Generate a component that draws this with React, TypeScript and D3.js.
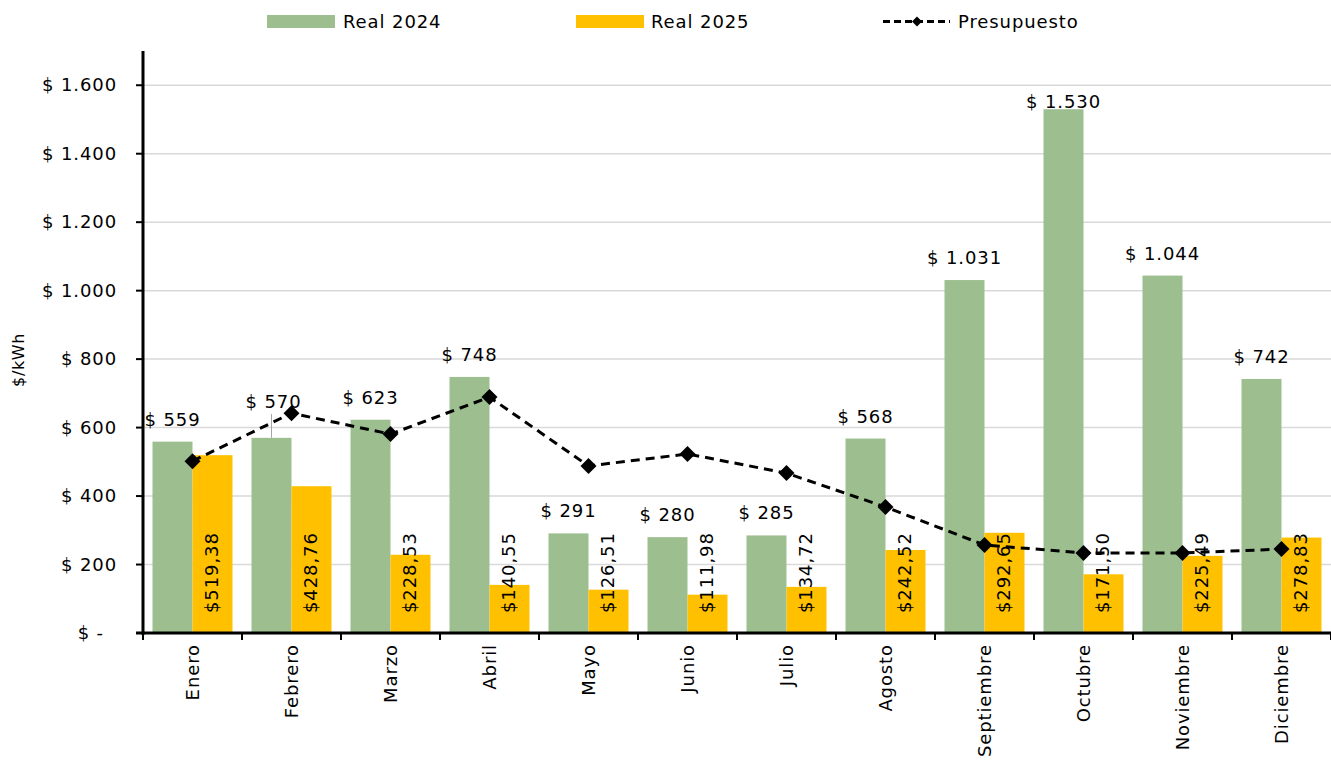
import React from "react";
import * as d3 from "d3";

const months = ["Enero","Febrero","Marzo","Abril","Mayo","Junio","Julio","Agosto","Septiembre","Octubre","Noviembre","Diciembre"];
const real2024 = [559, 570, 623, 748, 291, 280, 285, 568, 1031, 1530, 1044, 742];
const real2025 = [519.38, 428.76, 228.53, 140.55, 126.51, 111.98, 134.72, 242.52, 292.65, 171.5, 225.49, 278.83];
const presupuesto = [502, 642, 581, 689, 488, 523, 467, 368, 257, 234, 234, 245];
const yTicks = [0, 200, 400, 600, 800, 1000, 1200, 1400, 1600];

const W = 1331, H = 767;
const FONT = "'DejaVu Sans', sans-serif";
const FS = 18;
const LS = 0.9;
const GREEN = "#9DBF90";
const YELLOW = "#FFC000";

const fmtThousands = (v: number) => {
  const s = Math.round(v).toString();
  return s.replace(/\B(?=(\d{3})+(?!\d))/g, ".");
};
const fmt2 = (v: number) => "$" + v.toFixed(2).replace(".", ",");

export default function App() {
  const x = d3.scaleBand<string>().domain(months).range([143, 1331]).padding(0);
  const y = d3.scaleLinear().domain([0, 1700]).range([633, 51]);
  const bw = x.bandwidth();
  const barW = bw * 0.404;
  const line = d3.line<number>()
    .x((_, i) => (x(months[i]) as number) + bw / 2)
    .y(d => y(d));

  const diamond = (cx: number, cy: number, r: number) =>
    `M${cx},${cy - r}L${cx + r},${cy}L${cx},${cy + r}L${cx - r},${cy}Z`;

  const T = { fontSize: FS, letterSpacing: LS, fill: "#000" } as any;

  return (
    <svg width={W} height={H} style={{ position: "absolute", left: 0, top: 0, fontFamily: FONT }}>
      <rect width={W} height={H} fill="#fff" />
      {yTicks.map(t => (
        <line key={t} x1={143} x2={1331} y1={y(t)} y2={y(t)} stroke="#d9d9d9" strokeWidth={1.5} />
      ))}
      {months.map((m, i) => {
        const cx = (x(m) as number) + bw / 2;
        return (
          <g key={m}>
            <rect x={cx - barW} y={y(real2024[i])} width={barW} height={y(0) - y(real2024[i])} fill={GREEN} />
            <rect x={cx} y={y(real2025[i])} width={barW} height={y(0) - y(real2025[i])} fill={YELLOW} />
          </g>
        );
      })}
      <path d={line(presupuesto) as string} fill="none" stroke="#000" strokeWidth={3} strokeDasharray="9,6" />
      {presupuesto.map((v, i) => (
        <path key={i} d={diamond((x(months[i]) as number) + bw / 2, y(v), 8)} fill="#000" />
      ))}
      {months.map((m, i) => {
        const cx = (x(m) as number) + bw / 2 - barW / 2;
        let by = Math.max(y(real2024[i]) - 16, 108);
        let lx = cx;
        if (i === 1) { by = 408; lx = cx + 2; }
        const s = "$ " + fmtThousands(real2024[i]);
        return (
          <g key={m}>
            {i === 1 && <line x1={cx} x2={cx} y1={414} y2={y(real2024[i])} stroke="#a6a6a6" strokeWidth={1} />}
            <text x={lx} y={by} textAnchor="middle" {...T}>{s}</text>
          </g>
        );
      })}
      {months.map((m, i) => {
        const cx = (x(m) as number) + bw / 2 + barW / 2;
        const yb = y(0) - 20;
        return (
          <text key={m} transform={`translate(${cx + 6},${yb}) rotate(-90)`} textAnchor="start" {...T}>
            {fmt2(real2025[i])}
          </text>
        );
      })}
      <line x1={143} x2={143} y1={51} y2={635} stroke="#000" strokeWidth={3} />
      <line x1={136} x2={1331} y1={633} y2={633} stroke="#000" strokeWidth={3} />
      {yTicks.map(t => (
        <g key={t}>
          <line x1={136} x2={143} y1={y(t)} y2={y(t)} stroke="#000" strokeWidth={2} />
          <text x={t === 0 ? 104 : 117} y={y(t) + 6} textAnchor="end" {...T}>
            {t === 0 ? "$ -" : "$ " + fmtThousands(t)}
          </text>
        </g>
      ))}
      {months.map(m => (
        <line key={m} x1={x(m) as number} x2={x(m) as number} y1={633} y2={640} stroke="#000" strokeWidth={2} />
      ))}
      <line x1={1331} x2={1331} y1={633} y2={640} stroke="#000" strokeWidth={2} />
      {months.map(m => {
        const cx = (x(m) as number) + bw / 2;
        return (
          <text key={m} transform={`translate(${cx + 6},${644}) rotate(-90)`} textAnchor="end" {...T}>{m}</text>
        );
      })}
      <text transform={`translate(24,360) rotate(-90)`} textAnchor="middle" fontSize={16} letterSpacing={0.6} fill="#000">$/kWh</text>
      <rect x={267} y={15} width={68} height={13} fill={GREEN} />
      <text x={343} y={28} {...T}>Real 2024</text>
      <rect x={576} y={15} width={68} height={13} fill={YELLOW} />
      <text x={651} y={28} {...T}>Real 2025</text>
      <line x1={883} x2={950} y1={21.5} y2={21.5} stroke="#000" strokeWidth={3} strokeDasharray="7,4" />
      <path d={diamond(917, 21.5, 5)} fill="#000" />
      <text x={958} y={28} {...T}>Presupuesto</text>
    </svg>
  );
}
